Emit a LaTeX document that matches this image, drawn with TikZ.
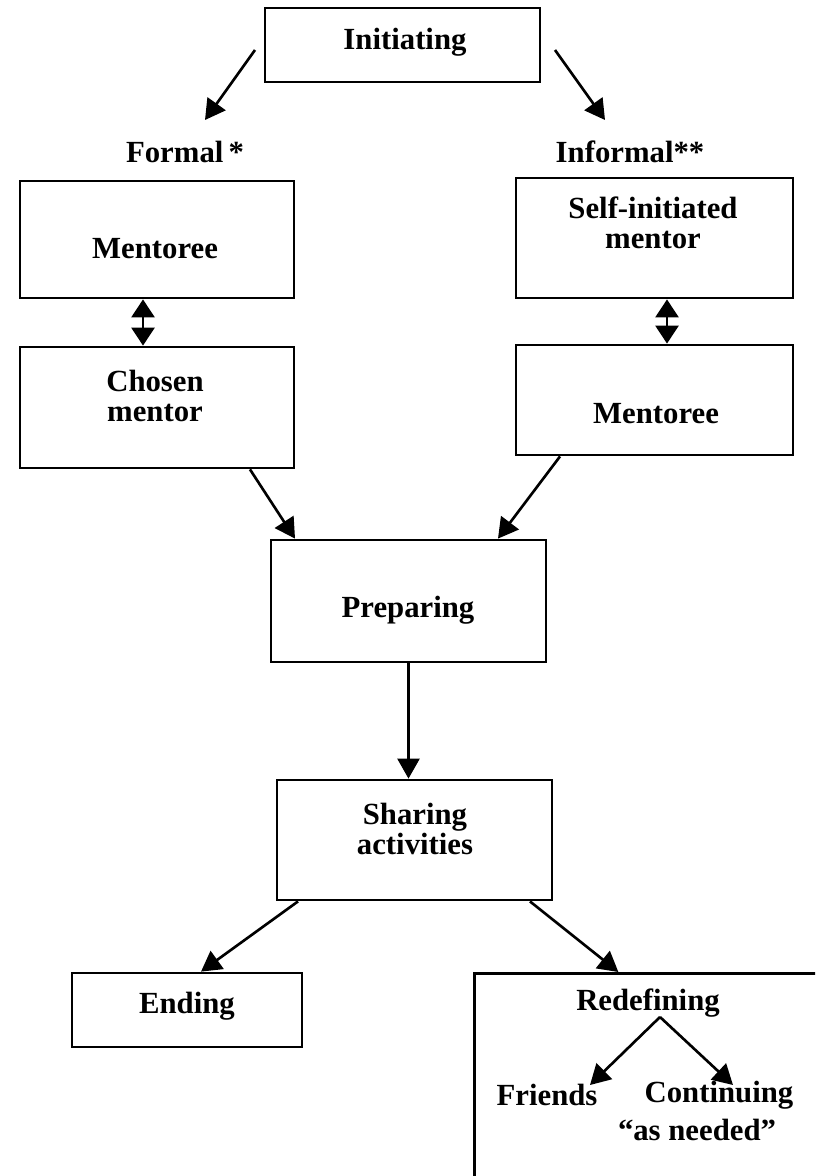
\documentclass[tikz,border=0pt]{standalone}
\usepackage{fontspec}
\setmainfont{Liberation Serif}
\usetikzlibrary{positioning,arrows.meta}

\begin{document}
\begin{tikzpicture}[
  x=0.02cm, y=-0.02cm,
  box/.style={draw, line width=1.6pt, minimum width=5.5cm, minimum height=2.4cm},
  lbl/.style={inner sep=2pt, align=center},
  link/.style={->, line width=1.5pt},
  twoway/.style={<->, line width=1.5pt, >={Triangle[length=0.36cm, width=0.46cm]}},
  >={Triangle[length=0.4cm, width=0.44cm]},
  font=\fontsize{17.5}{17.4}\selectfont\bfseries
]
  \useasboundingbox (0,0) rectangle (815,1176);
  \clip (0,0) rectangle (815,1176);

  \node[box, minimum height=1.48cm] (init) at (402.5,45) {};
  \node[box, minimum width=5.48cm, minimum height=2.34cm] (mentL) at (157,239.5) {};
  \node[box, minimum width=5.48cm, minimum height=2.42cm] (chosen) at (157,407.5) {};
  \node[box, minimum width=5.54cm] (selfm) at (654.5,238) {};
  \node[box, minimum width=5.54cm, minimum height=2.2cm] (mentR) at (654.5,400) {};
  \node[box, minimum height=2.44cm] (prep) at (408.5,601) {};
  \node[box] (share) at (414.5,840) {};
  \node[box, minimum width=4.6cm, minimum height=1.48cm] (ending) at (187,1010) {};
  \node[box, minimum width=8cm, minimum height=5.2cm, anchor=north west] (redefbox) at (473,972) {};

  \node[lbl] (inittxt) at (405,42) {Initiating};
  \node[lbl] (formal) at (185,152) {Formal\,*};
  \node[lbl] (informal) at (630,152) {Informal**};
  \node[lbl] (mentLtxt) at (155,249) {Mentoree};
  \node[lbl] (chosentxt) at (155,396) {Chosen\\mentor};
  \node[lbl] (selfmtxt) at (653,223) {Self-initiated\\mentor};
  \node[lbl] (mentRtxt) at (656,414) {Mentoree};
  \node[lbl] (preptxt) at (408,610) {Preparing};
  \node[lbl] (sharetxt) at (415,829) {Sharing\\activities};
  \node[lbl] (endingtxt) at (187,1006) {Ending};
  \node[lbl] (redef) at (648,1003) {Redefining};
  \node[lbl] (friends) at (547,1095) {Friends};
  \node[lbl] (cont) at (719,1095) {Continuing};
  \node[lbl] (asneed) at (697,1130) {``as needed''};

  \draw[link] ([shift={(-147.5,5)}]init.center) -- ([shift={(20,-32)}]formal.center);
  \draw[link] ([shift={(152.5,5)}]init.center) -- ([shift={(-25,-32)}]informal.center);

  \draw[twoway] ([xshift=-0.28cm]mentL.south) -- ([xshift=-0.28cm]chosen.north);
  \draw[twoway] ([xshift=0.25cm]selfm.south) -- ([xshift=0.25cm]mentR.north);

  \draw[link] ([xshift=1.86cm]chosen.south) -- ([xshift=-2.27cm]prep.north);
  \draw[link] ([xshift=-1.89cm]mentR.south) -- ([xshift=1.79cm]prep.north);
  \draw[link] (prep.south) -- (prep.south |- share.north);

  \draw[link] ([xshift=-2.33cm]share.south) -- ([xshift=0.28cm]ending.north);
  \draw[link] ([xshift=2.31cm]share.south) -- ([xshift=-1.12cm]redefbox.north);

  \draw[link] ([shift={(12,14)}]redef.center) -- ([shift={(43,-10)}]friends.center);
  \draw[link] ([shift={(12,14)}]redef.center) -- ([shift={(14,-10)}]cont.center);
\end{tikzpicture}
\end{document}
